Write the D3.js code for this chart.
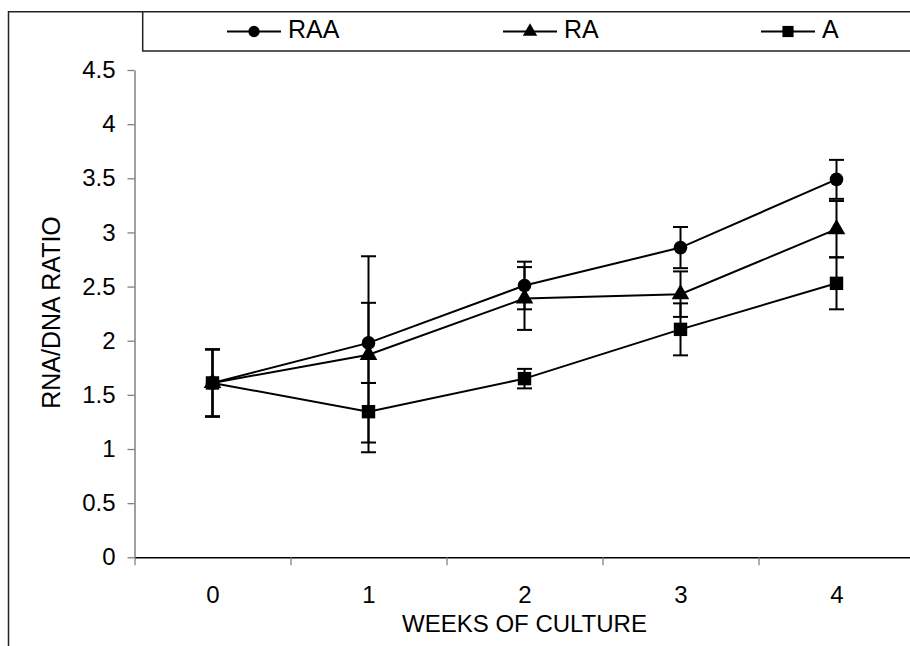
<!DOCTYPE html>
<html>
<head>
<meta charset="utf-8">
<script src="https://cdn.jsdelivr.net/npm/d3@7"></script>
<style>
	body { margin: 0; background: #fff; }
	svg { display: block; font-family: "Liberation Sans", Arial, sans-serif; }
	.tick text { font-size: 24px; fill: #000; }
</style>
</head>
<body>
<div id="chart"></div>
<script>

// weeks of culture
var weeks = [0, 1, 2, 3, 4]

var yTicks = [0, 0.5, 1, 1.5, 2, 2.5, 3, 3.5, 4, 4.5]

var seriesNames = ["RAA", "RA", "A"]

// RNA/DNA ratio
var raa = [1.61, 1.98, 2.51, 2.86, 3.49]
var raaPlus = [0.31, 0.80, 0.22, 0.19, 0.18]
var raaMinus = [0.31, 0.37, 0.22, 0.19, 0.18]

var ra = [1.61, 1.87, 2.39, 2.43, 3.03]
var raPlus = [0.31, 0.48, 0.29, 0.21, 0.26]
var raMinus = [0.31, 0.90, 0.29, 0.21, 0.26]

var a = [1.61, 1.345, 1.65, 2.105, 2.53]
var aPlus = [0.31, 0.265, 0.09, 0.24, 0.24]
var aMinus = [0.31, 0.285, 0.09, 0.24, 0.24]

function drawChart() {

	var width = 910
	var height = 646

	var svg = d3.select("#chart").append("svg")
		.attr("width", width)
		.attr("height", height)

	var series = [
		{ name: seriesNames[0], values: raa, plus: raaPlus, minus: raaMinus, symbol: d3.symbolCircle, size: 145, legendSize: 100, legendX: 227 },
		{ name: seriesNames[1], values: ra, plus: raPlus, minus: raMinus, symbol: d3.symbolTriangle, size: 135, legendSize: 90, legendX: 503 },
		{ name: seriesNames[2], values: a, plus: aPlus, minus: aMinus, symbol: d3.symbolSquare, size: 180, legendSize: 125, legendX: 761 }
	]

	// categories sit in the middle of each band, ticks on the band edges
	var x = d3.scaleLinear().domain([-0.5, 4.5]).range([134.5, 914.5])
	var y = d3.scaleLinear().domain([0, 4.5]).range([557.3, 70])

	// outer frame and legend box
	svg.append("path")
		.attr("d", "M8.5,646V11.7H910")
		.attr("fill", "none")
		.attr("stroke", "#222")
		.attr("stroke-width", 1.5)

	svg.append("path")
		.attr("d", "M142.7,11.7V51H910")
		.attr("fill", "none")
		.attr("stroke", "#222")
		.attr("stroke-width", 1.5)

	// y axis
	var yAxis = d3.axisLeft(y)
		.tickValues(yTicks)
		.tickFormat(function(d) { return d })
		.tickSizeInner(7)
		.tickSizeOuter(0)
		.tickPadding(12)

	var gy = svg.append("g")
		.attr("class", "y")
		.attr("transform", "translate(" + x(-0.5) + ",0)")
		.call(yAxis)

	gy.select(".domain").attr("stroke", "#808080").attr("stroke-width", 1.5)
	gy.selectAll(".tick line").attr("stroke", "#808080").attr("stroke-width", 1.3)

	// x axis: band edge ticks
	var edges = weeks.map(function(d) { return d - 0.5 })

	var xAxis = d3.axisBottom(x)
		.tickValues(edges)
		.tickFormat("")
		.tickSizeInner(8)
		.tickSizeOuter(0)

	var gx = svg.append("g")
		.attr("class", "x")
		.attr("transform", "translate(0," + y(0) + ")")
		.call(xAxis)

	gx.select(".domain").attr("stroke", "#000").attr("stroke-width", 1.5)
	gx.selectAll(".tick line").attr("stroke", "#808080").attr("stroke-width", 1.3)

	// x axis: week labels
	var xLabels = d3.axisBottom(x)
		.tickValues(weeks)
		.tickFormat(function(d) { return d })
		.tickSize(0)
		.tickPadding(29)

	var gl = svg.append("g")
		.attr("transform", "translate(0," + y(0) + ")")
		.call(xLabels)

	gl.select(".domain").remove()

	// axis titles
	svg.append("text")
		.attr("x", x(2))
		.attr("y", 632)
		.attr("text-anchor", "middle")
		.style("font-size", "24px")
		.text("WEEKS OF CULTURE")

	svg.append("text")
		.attr("transform", "translate(60,312.5) rotate(-90)")
		.attr("text-anchor", "middle")
		.style("font-size", "25px")
		.text("RNA/DNA RATIO")

	var line = d3.line()
		.x(function(d, i) { return x(weeks[i]) })
		.y(function(d) { return y(d) })

	series.forEach(function(s) {

		var g = svg.append("g").attr("class", "series")

		// error bars
		s.values.forEach(function(v, i) {
			var cx = x(weeks[i])
			var top = y(v + s.plus[i])
			var bottom = y(v - s.minus[i])

			g.append("line")
				.attr("x1", cx).attr("x2", cx)
				.attr("y1", top).attr("y2", bottom)
				.attr("stroke", "#000")
				.attr("stroke-width", 2)

			g.append("line")
				.attr("x1", cx - 7.5).attr("x2", cx + 7.5)
				.attr("y1", top).attr("y2", top)
				.attr("stroke", "#000")
				.attr("stroke-width", 2)

			g.append("line")
				.attr("x1", cx - 7.5).attr("x2", cx + 7.5)
				.attr("y1", bottom).attr("y2", bottom)
				.attr("stroke", "#000")
				.attr("stroke-width", 2)
		})

		g.append("path")
			.datum(s.values)
			.attr("d", line)
			.attr("fill", "none")
			.attr("stroke", "#000")
			.attr("stroke-width", 2)

		g.selectAll(".marker")
			.data(s.values)
			.enter().append("path")
			.attr("class", "marker")
			.attr("transform", function(d, i) { return "translate(" + x(weeks[i]) + "," + y(d) + ")" })
			.attr("d", d3.symbol().type(s.symbol).size(s.size))
			.attr("fill", "#000")

		// legend entry
		var lg = svg.append("g")
			.attr("transform", "translate(" + s.legendX + ",31.5)")

		lg.append("line")
			.attr("x1", 0).attr("x2", 54)
			.attr("stroke", "#000")
			.attr("stroke-width", 2)

		lg.append("path")
			.attr("transform", "translate(27,0)")
			.attr("d", d3.symbol().type(s.symbol).size(s.legendSize))
			.attr("fill", "#000")

		lg.append("text")
			.attr("x", 61)
			.attr("y", 6)
			.style("font-size", "25px")
			.text(s.name)
	})
}

drawChart()

</script>
</body>
</html>
